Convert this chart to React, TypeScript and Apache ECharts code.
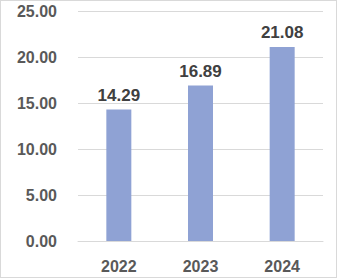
import React, { useEffect, useRef } from "react";
import * as echarts from "echarts";

const categories = ["2022", "2023", "2024"];
const values = [14.29, 16.89, 21.08];
const yTicks = { min: 0, max: 25, interval: 5 };

export default function App() {
  const ref = useRef<HTMLDivElement>(null);
  useEffect(() => {
    const chart = echarts.init(ref.current!, null, { renderer: "svg" });
    chart.setOption({
      animation: false,
      grid: { left: 77, right: 13, top: 10, bottom: 36 },
      xAxis: {
        type: "category",
        data: categories,
        axisLine: { lineStyle: { color: "#d9d9d9" } },
        axisTick: { show: false },
        axisLabel: {
          color: "#595959",
          fontWeight: "bold",
          fontSize: 16,
          fontFamily: "Liberation Sans",
          margin: 17,
        },
      },
      yAxis: {
        type: "value",
        min: yTicks.min,
        max: yTicks.max,
        interval: yTicks.interval,
        axisLine: { show: false },
        axisTick: { show: false },
        splitLine: { lineStyle: { color: "#d9d9d9" } },
        axisLabel: {
          color: "#595959",
          fontWeight: "bold",
          fontSize: 16,
          fontFamily: "Liberation Sans",
          margin: 21,
          formatter: (v: number) => v.toFixed(2),
        },
      },
      series: [
        {
          type: "bar",
          data: values,
          barWidth: 25,
          itemStyle: { color: "#8fa2d4" },
          label: {
            show: true,
            position: "top",
            distance: 6,
            color: "#404040",
            fontWeight: "bold",
            fontSize: 17,
            fontFamily: "Liberation Sans",
            formatter: (p: any) => p.value.toFixed(2),
          },
        },
      ],
    });
    return () => chart.dispose();
  }, []);
  return (
    <div
      style={{
        position: "fixed",
        left: 0,
        top: 0,
        width: 337,
        height: 278,
        boxSizing: "border-box",
        border: "1px solid #d9d9d9",
        background: "#fff",
      }}
    >
      <div ref={ref} style={{ width: 335, height: 276 }} />
    </div>
  );
}
